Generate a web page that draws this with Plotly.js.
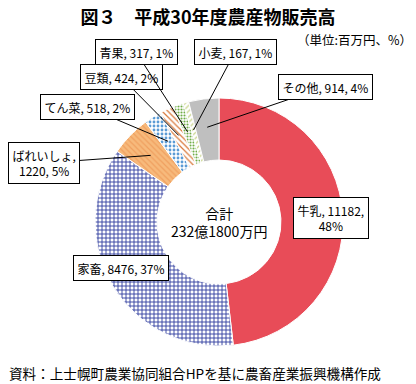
<!DOCTYPE html>
<html><head><meta charset="utf-8">
<script src="https://cdn.plot.ly/plotly-3.0.1.min.js"></script>
<style>html,body{margin:0;padding:0;background:#fff}#c{width:416px;height:384px}</style>
</head><body><div id="c"></div>
<script>
const categories = ['牛乳','家畜','ばれいしょ','てん菜','豆類','青果','小麦','その他'];
const values = [11182, 8476, 1220, 518, 424, 317, 167, 914];
const percents = ['48%','37%','5%','2%','2%','1%','1%','4%'];
const total = '232億1800万円';

const W = 416, H = 384;
const CX = 219, CY = 222, R = 124;
const FONT = '"Noto Sans CJK JP", "Noto Sans", sans-serif';

// label text box centres (px) and whether a leader line is drawn
const labelPos = [
  {x: 331, y: 218, line: false, br: true},
  {x: 121, y: 268, line: false, br: false},
  {x: 44,  y: 163, line: true,  br: true},
  {x: 87,  y: 107, line: true,  br: false},
  {x: 121, y: 77,  line: true,  br: false},
  {x: 136, y: 52,  line: true,  br: false},
  {x: 235, y: 52,  line: true,  br: false},
  {x: 325, y: 87,  line: true,  br: false}
];

const sum = values.reduce((a,b)=>a+b,0);
let cum = 0;
const annotations = [];
categories.forEach((c,i)=>{
  const mid = (cum + values[i]/2)/sum; cum += values[i];
  const th = mid*2*Math.PI;
  const r = 0.77*R;
  const tx = CX + r*Math.sin(th), ty = CY - r*Math.cos(th);
  const lp = labelPos[i];
  let txt;
  if (i===0) txt = c + ', ' + values[i] + ',<br>' + percents[i];
  else if (lp.br) txt = c + ',<br>' + values[i] + ', ' + percents[i];
  else txt = c + ', ' + values[i] + ', ' + percents[i];
  const a = {text: txt, font:{family:FONT,size:12,color:'#000'}, bgcolor:'#fff',
    bordercolor:'#000', borderwidth:1, borderpad:3.5, xref:'paper', yref:'paper'};
  if (lp.line) {
    Object.assign(a, {x: tx/W, y: 1-ty/H, showarrow:true, arrowhead:0, arrowwidth:1,
      arrowcolor:'#000', standoff:0, ax: lp.x - tx, ay: lp.y - ty});
  } else {
    Object.assign(a, {x: lp.x/W, y: 1-lp.y/H, showarrow:false, xanchor:'center', yanchor:'middle'});
  }
  annotations.push(a);
});
annotations.push({text:'合計<br>'+total, x:CX/W, y:1-CY/H, xref:'paper', yref:'paper',
  xanchor:'center', yanchor:'middle',
  showarrow:false, font:{family:FONT,size:14,color:'#000'}});
annotations.push({text:'（単位:百万円、%）', x:414/W, y:1-40/H, xref:'paper', yref:'paper',
  xanchor:'right', yanchor:'middle', showarrow:false, font:{family:FONT,size:12.5,color:'#000'}});
annotations.push({text:'資料：上士幌町農業協同組合HPを基に農畜産業振興機構作成', x:7/W, y:1-373/H,
  xref:'paper', yref:'paper', xanchor:'left', yanchor:'middle', showarrow:false,
  font:{family:FONT,size:13.6,color:'#000'}});

const trace = {
  type:'pie', labels: categories, values: values, sort:false, direction:'clockwise', rotation:0,
  hole:0.5, textinfo:'none', textposition:'none', hoverinfo:'label+value+percent',
  domain:{x:[(CX-R)/W,(CX+R)/W], y:[1-(CY+R)/H, 1-(CY-R)/H]},
  marker:{
    colors:['#E84C58','#FFFFFF','#F7BA7C','#FFFFFF','#FFFFFF','#FFFFFF','#FFFFFF','#BFBFBF'],
    line:{color:'#FFFFFF', width:1},
    pattern:{
      shape:['', '+', '\\', '.', '\\', '.', '/', ''],
      fgcolor:['#E84C58','#2E3C9E','#F0A060','#5B9BD5','#D9783A','#70AD47','#C8D48A','#BFBFBF'],
      bgcolor:['#E84C58','#FFFFFF','#F7BA7C','#FFFFFF','#FFFFFF','#FFFFFF','#FFFFFF','#BFBFBF'],
      size:[6,4,4,4,4,3,4,6], solidity:[0.3,0.4,0.3,0.4,0.3,0.4,0.3,0.3],
      fillmode:'replace'
    }
  }
};

const layout = {
  width:W, height:H, margin:{l:0,r:0,t:0,b:0}, showlegend:false,
  paper_bgcolor:'#fff',
  title:{text:'<b>図３　平成30年度農産物販売高</b>', x:0.5, xanchor:'center', y:1-18/H, yanchor:'middle',
    yref:'container', font:{family:FONT, size:18, color:'#000'}},
  annotations: annotations
};
Plotly.newPlot('c',[trace],layout,{displayModeBar:false, staticPlot:true});
</script></body></html>
